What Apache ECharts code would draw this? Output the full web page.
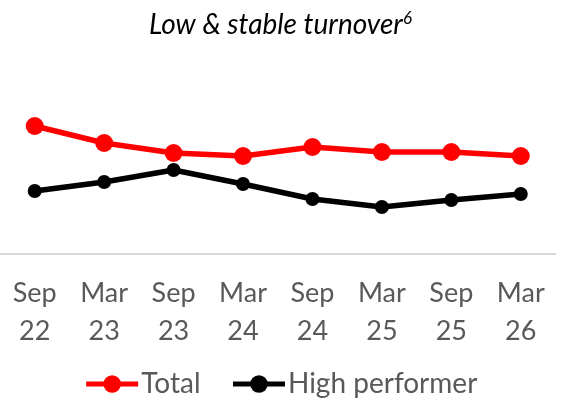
<!DOCTYPE html>
<html>
<head>
<meta charset="utf-8">
<script src="https://cdn.jsdelivr.net/npm/echarts@6/dist/echarts.min.js"></script>
<style>html,body{margin:0;padding:0;background:#fff}#c{width:561px;height:409px}</style>
</head>
<body>
<div id="c"></div>
<script>
var categories = ['Sep\n22','Mar\n23','Sep\n23','Mar\n24','Sep\n24','Mar\n25','Sep\n25','Mar\n26'];
var totalValues = [12.8, 11.1, 10.1, 9.8, 10.7, 10.2, 10.2, 9.8];
var highPerformerValues = [6.3, 7.2, 8.4, 7.0, 5.5, 4.7, 5.4, 6.0];
var seriesNames = ['Total', 'High performer'];

var chart = echarts.init(document.getElementById('c'), null, {renderer: 'canvas'});
chart.setOption({
  animation: false,
  title: {
    text: '{a|Low & stable turnover}{s|6}',
    left: 'center',
    top: 5,
    textStyle: {
      fontWeight: 'normal',
      rich: {
        a: {fontFamily: 'Lato', fontStyle: 'italic', fontWeight: 'normal', fontSize: 28, color: '#000'},
        s: {fontFamily: 'Lato', fontStyle: 'italic', fontWeight: 'normal', fontSize: 17, color: '#000', verticalAlign: 'top', padding: [0,0,12,0]}
      }
    }
  },
  grid: {left: 0, right: 5.5, top: 54, bottom: 155, containLabel: false},
  xAxis: {
    type: 'category',
    data: categories,
    boundaryGap: true,
    axisLine: {lineStyle: {color: '#d9d9d9', width: 2}},
    axisTick: {show: false},
    axisLabel: {color: '#595959', fontFamily: 'Lato', fontSize: 27, lineHeight: 38, margin: 20, interval: 0}
  },
  yAxis: {
    type: 'value', min: 0, max: 20,
    show: false,
    splitLine: {show: false}
  },
  legend: {
    bottom: 6,
    left: 'center',
    itemWidth: 52,
    itemHeight: 22,
    itemGap: 30,
    lineStyle: {width: 5},
    textStyle: {color: '#595959', fontFamily: 'Lato', fontSize: 28, padding: [0,0,0,-2]},
    data: seriesNames
  },
  series: [
    {
      name: seriesNames[0], type: 'line', data: totalValues,
      symbol: 'circle', symbolSize: 18,
      lineStyle: {color: '#ff0000', width: 5.5},
      itemStyle: {color: '#ff0000'}
    },
    {
      name: seriesNames[1], type: 'line', data: highPerformerValues,
      symbol: 'circle', symbolSize: 14,
      lineStyle: {color: '#000000', width: 5.5},
      itemStyle: {color: '#000000'}
    }
  ]
});
</script>
</body>
</html>
